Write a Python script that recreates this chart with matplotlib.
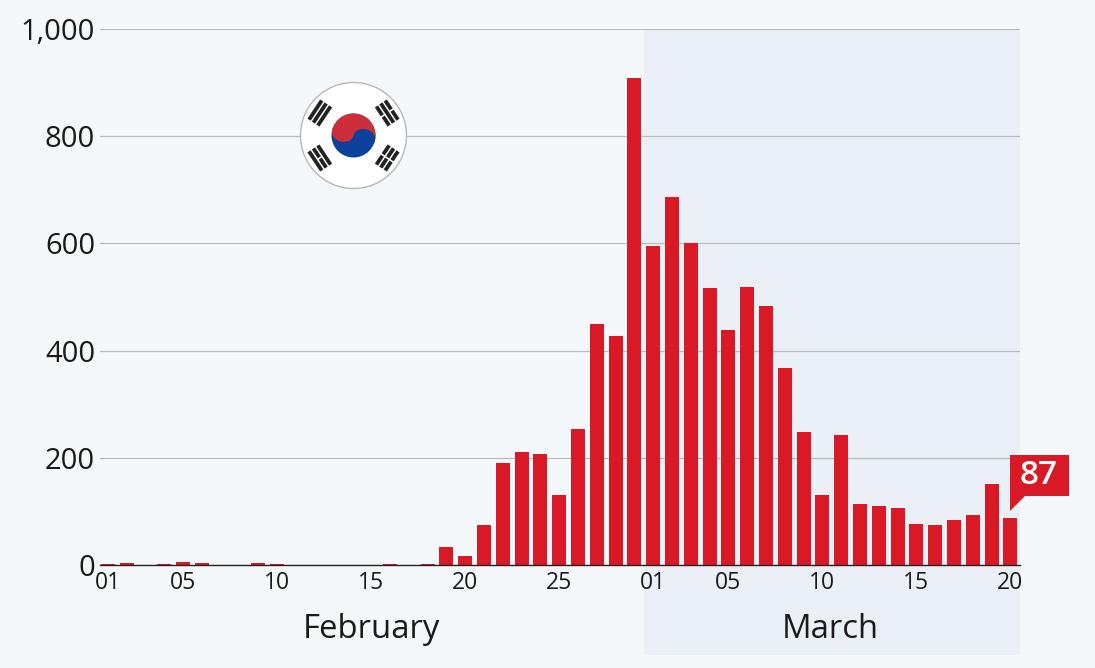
import numpy as np
import matplotlib
matplotlib.use('Agg')
import matplotlib.pyplot as plt
from matplotlib.patches import Circle, Ellipse, Polygon, Wedge

plt.rcParams['font.family'] = ['Open Sans', 'DejaVu Sans']

feb_cases = [1, 3, 0, 1, 5, 3, 0, 0, 3, 1, 0, 0, 0, 0, 0, 2, 0, 1, 34, 16,
             74, 190, 210, 207, 130, 253, 449, 427, 909]
mar_cases = [595, 686, 600, 516, 438, 518, 483, 367, 248, 131, 242, 114, 110,
             107, 76, 74, 84, 93, 152, 87]
cases = feb_cases + mar_cases
day_labels = ['01', '05', '10', '15', '20', '25', '01', '05', '10', '15', '20']
day_index = [0, 4, 9, 14, 19, 24, 29, 33, 38, 43, 48]
y_ticks = [0, 200, 400, 600, 800, 1000]
months = ['February', 'March']

W, H = 1095, 668
BG = '#f4f8fb'
RED = '#d91a26'
INK = '#1a1a1a'

fig = plt.figure(figsize=(W / 100, H / 100), dpi=100, facecolor=BG)
ax = fig.add_axes([100 / W, 1 - 565 / H, 920 / W, 536 / H], facecolor='none')

# shaded march band runs down past the axis, behind the month label
ax.axvspan(28.5, 48.51, ymin=-0.168, ymax=1, color='#ebf0f7', lw=0, clip_on=False, zorder=0)
ax.bar(range(len(cases)), cases, width=0.74, color=RED, zorder=3)

ax.set_xlim(-0.4255, 48.51)
ax.set_ylim(0, 1000)
ax.set_yticks(y_ticks)
ax.set_yticklabels([f'{v:,}' for v in y_ticks], fontsize=21, color=INK)
ax.set_xticks(day_index)
ax.set_xticklabels(day_labels, fontsize=16.5, color=INK)
ax.tick_params(axis='both', length=0)
ax.tick_params(axis='y', pad=3.5)
ax.tick_params(axis='x', pad=4.5)
ax.grid(axis='y', color='#b9bcbd', lw=0.9, zorder=1)
ax.set_axisbelow(True)
for s in ['top', 'left', 'right']:
    ax.spines[s].set_visible(False)
ax.spines['bottom'].set_color('#222222')
ax.spines['bottom'].set_linewidth(1.0)
ax.spines['bottom'].set_zorder(4)

ax.text(14.0, -0.12, months[0], transform=ax.get_xaxis_transform(), fontsize=23.7,
        color=INK, ha='center', va='center')
ax.text(38.42, -0.12, months[1], transform=ax.get_xaxis_transform(), fontsize=23.7,
        color=INK, ha='center', va='center')

# overlay in pixels for the flag and the callout
ov = fig.add_axes([0, 0, 1, 1], facecolor='none')
ov.set_xlim(0, W)
ov.set_ylim(0, H)
ov.axis('off')

# callout hangs off the last bar
bx, by = ax.transData.transform((len(cases) - 1, cases[-1]))
tip = (bx, by + 7)
ov.add_patch(Polygon([tip, (bx, by + 63), (bx + 59, by + 63), (bx + 59, by + 22), (bx + 15, by + 22)],
                     closed=True, fc=RED, ec='none', zorder=5))
ov.text(bx + 28.5, by + 43, str(cases[-1]), color='white', fontsize=24, fontweight='semibold',
        ha='center', va='center', zorder=6)

# south korean flag badge
cx, cy, R = 353.5, H - 135.5, 53
ov.add_patch(Circle((cx, cy), R, fc='white', ec='#b8b8b8', lw=1.0, zorder=5))
tilt = -13
r = 22
ov.add_patch(Circle((cx, cy), r, fc='#0b419b', ec='none', zorder=6))
ov.add_patch(Wedge((cx, cy), r, tilt, tilt + 180, fc='#cd2e3a', ec='none', zorder=6))
dx, dy = r / 2 * np.cos(np.radians(tilt)), r / 2 * np.sin(np.radians(tilt))
ov.add_patch(Ellipse((cx - dx, cy - dy), r, r * 0.8, angle=tilt, fc='#cd2e3a', ec='none', zorder=7))
ov.add_patch(Ellipse((cx + dx, cy + dy), r, r * 0.8, angle=tilt, fc='#0b419b', ec='none', zorder=7))

trigrams = [(146.3, [0, 0, 0]), (33.7, [1, 0, 1]), (213.7, [0, 1, 0]), (326.3, [1, 1, 1])]
bar_len, bar_thick, bar_gap = 23, 3.8, 1.5
for ang, breaks in trigrams:
    a = np.radians(ang)
    ur = np.array([np.cos(a), np.sin(a)])
    ut = np.array([-np.sin(a), np.cos(a)])
    c0 = np.array([cx, cy]) + 40.5 * ur
    for k, broken in enumerate(breaks):
        c = c0 + (k - 1) * (bar_thick + bar_gap) * ur
        spans = [(-bar_len / 2, -0.8), (0.8, bar_len / 2)] if broken else [(-bar_len / 2, bar_len / 2)]
        for s0, s1 in spans:
            pts = [c + s0 * ut - bar_thick / 2 * ur, c + s1 * ut - bar_thick / 2 * ur,
                   c + s1 * ut + bar_thick / 2 * ur, c + s0 * ut + bar_thick / 2 * ur]
            ov.add_patch(Polygon(pts, closed=True, fc='#222222', ec='none', zorder=6))

fig.savefig('out.png', dpi=100, facecolor=BG)
